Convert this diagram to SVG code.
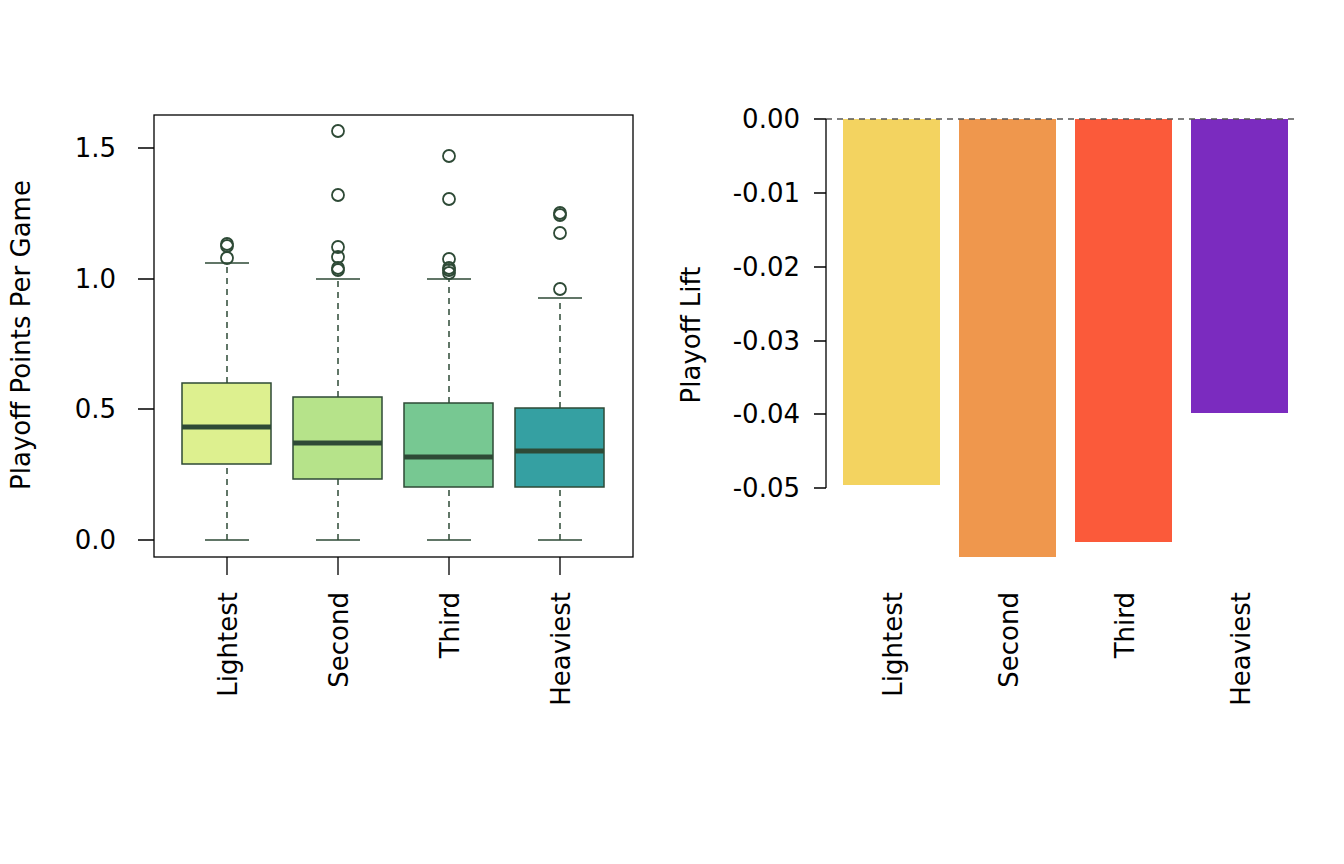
<svg xmlns="http://www.w3.org/2000/svg" width="1344" height="864" viewBox="0 0 1344 864">
<style>
text{font-family:"DejaVu Sans",sans-serif;font-size:26px;fill:#000}
.ax{stroke:#000;stroke-width:1.3;fill:none}
.bx{stroke:#2E4A36;stroke-width:1.5}
.wh{stroke:#2E4A36;stroke-width:1.5;stroke-dasharray:6,5;fill:none}
.cap{stroke:#2E4A36;stroke-width:1.5}
.md{stroke:#2E4A36;stroke-width:5}
.out{fill:none;stroke:#2E4A36;stroke-width:1.8}
</style>
<rect width="1344" height="864" fill="#fff"/>
<g id="left">
<rect x="154" y="115" width="479" height="442" class="ax"/>
<g class="ax"><path d="M154 540H138M154 409H138M154 279H138M154 148H138M227 557V575M338 557V575M449 557V575M560 557V575"/></g>
<g text-anchor="end"><text x="116" y="549">0.0</text><text x="116" y="418">0.5</text><text x="116" y="288">1.0</text><text x="116" y="157">1.5</text></g>
<text transform="translate(30,335) rotate(-90)" text-anchor="middle">Playoff Points Per Game</text>
<g text-anchor="end">
<text transform="translate(237,592) rotate(-90)">Lightest</text>
<text transform="translate(348,592) rotate(-90)">Second</text>
<text transform="translate(459,592) rotate(-90)">Third</text>
<text transform="translate(570,592) rotate(-90)">Heaviest</text>
</g>
<g id="b1">
<path class="wh" d="M227 540V464M227 383V263"/><path class="cap" d="M205 540H249M205 263H249"/>
<rect x="182" y="383" width="89" height="81" fill="#DDF08F" class="bx"/><path class="md" d="M182 427H271"/>
<circle class="out" cx="227" cy="258" r="6"/><circle class="out" cx="227" cy="246" r="6"/><circle class="out" cx="227" cy="244" r="6"/>
</g>
<g id="b2">
<path class="wh" d="M338 540V479M338 397V279"/><path class="cap" d="M316 540H360M316 279H360"/>
<rect x="293" y="397" width="89" height="82" fill="#B6E38A" class="bx"/><path class="md" d="M293 443H382"/>
<circle class="out" cx="338" cy="270" r="6"/><circle class="out" cx="338" cy="268" r="6"/><circle class="out" cx="338" cy="257" r="6"/><circle class="out" cx="338" cy="247" r="6"/><circle class="out" cx="338" cy="195" r="6"/><circle class="out" cx="338" cy="131" r="6"/>
</g>
<g id="b3">
<path class="wh" d="M449 540V487M449 403V279"/><path class="cap" d="M427 540H471M427 279H471"/>
<rect x="404" y="403" width="89" height="84" fill="#77C892" class="bx"/><path class="md" d="M404 457H493"/>
<circle class="out" cx="449" cy="273" r="6"/><circle class="out" cx="449" cy="270" r="6"/><circle class="out" cx="449" cy="268" r="6"/><circle class="out" cx="449" cy="259" r="6"/><circle class="out" cx="449" cy="199" r="6"/><circle class="out" cx="449" cy="156" r="6"/>
</g>
<g id="b4">
<path class="wh" d="M560 540V487M560 408V298"/><path class="cap" d="M538 540H582M538 298H582"/>
<rect x="515" y="408" width="89" height="79" fill="#35A0A2" class="bx"/><path class="md" d="M515 451H604"/>
<circle class="out" cx="560" cy="289" r="6"/><circle class="out" cx="560" cy="233" r="6"/><circle class="out" cx="560" cy="215" r="6"/><circle class="out" cx="560" cy="213" r="6"/>
</g>
</g>
<g id="right">
<rect x="843" y="119" width="97" height="366" fill="#F3D360"/>
<rect x="959" y="119" width="97" height="438" fill="#EF974D"/>
<rect x="1075" y="119" width="97" height="423" fill="#FB5A3A"/>
<rect x="1191" y="119" width="97" height="294" fill="#7B2BBF"/>
<path d="M826 119H1298" stroke="#555" stroke-width="1.5" stroke-dasharray="6,5"/>
<path class="ax" d="M826 119V488M826 119H814M826 193H814M826 267H814M826 341H814M826 414H814M826 488H814"/>
<g text-anchor="end"><text x="800" y="128">0.00</text><text x="800" y="202">-0.01</text><text x="800" y="276">-0.02</text><text x="800" y="350">-0.03</text><text x="800" y="423">-0.04</text><text x="800" y="497">-0.05</text></g>
<text transform="translate(700,335) rotate(-90)" text-anchor="middle">Playoff Lift</text>
<g text-anchor="end">
<text transform="translate(902,592) rotate(-90)">Lightest</text>
<text transform="translate(1018,592) rotate(-90)">Second</text>
<text transform="translate(1134,592) rotate(-90)">Third</text>
<text transform="translate(1250,592) rotate(-90)">Heaviest</text>
</g>
</g>
</svg>
